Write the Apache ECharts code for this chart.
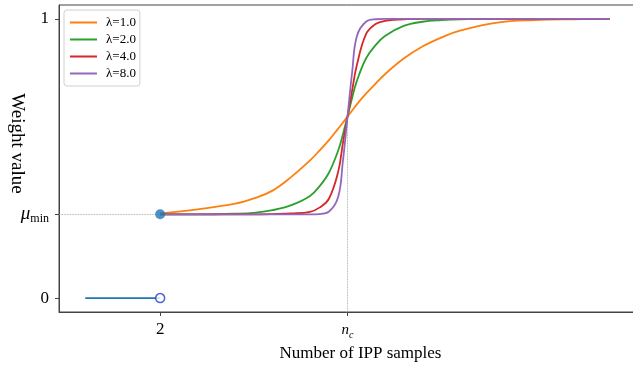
<!DOCTYPE html>
<html>
<head>
<meta charset="utf-8">
<script src="https://cdn.jsdelivr.net/npm/echarts@6/dist/echarts.min.js"></script>
<style>html,body{margin:0;padding:0;background:#fff;}#c{width:633px;height:370px;}</style>
</head>
<body>
<div id="c"></div>
<script>
// ---- data ----
const muMin = 0.3;          // weight at n = 2
const nc = 7;               // critical sample count (position of n_c tick)
const xTicks = [2, 7];
const xTickLabels = ['2', '{it|n}{sub|c}'];
const yTicks = [0, 0.3, 1];
const yTickLabels = ['0', '{mu|μ}{subm|min}', '1'];
const lambdas = ['λ=1.0', 'λ=2.0', 'λ=4.0', 'λ=8.0'];
const xs = [2, 3, 4, 4.5, 5, 5.5, 6, 6.25, 6.5, 6.75, 6.875, 7, 7.125, 7.25, 7.5, 7.75, 8, 8.5, 9, 9.5, 10, 11, 12, 13, 14];
const w1 = [0.303, 0.318, 0.338, 0.357, 0.385, 0.434, 0.493, 0.528, 0.565, 0.607, 0.628, 0.65, 0.672, 0.694, 0.733, 0.768, 0.802, 0.858, 0.901, 0.933, 0.958, 0.987, 0.996, 0.999, 1.0];
const w2 = [0.300, 0.300, 0.302, 0.305, 0.315, 0.333, 0.366, 0.400, 0.448, 0.528, 0.585, 0.65, 0.718, 0.778, 0.860, 0.906, 0.939, 0.975, 0.990, 0.996, 0.999, 1.0, 1.0, 1.0, 1.0];
const w4 = [0.300, 0.300, 0.300, 0.300, 0.301, 0.303, 0.309, 0.324, 0.355, 0.452, 0.553, 0.65, 0.745, 0.835, 0.947, 0.982, 0.993, 0.999, 1.0, 1.0, 1.0, 1.0, 1.0, 1.0, 1.0];
const w8 = [0.300, 0.300, 0.300, 0.300, 0.300, 0.300, 0.300, 0.301, 0.309, 0.362, 0.488, 0.65, 0.81, 0.938, 0.991, 0.999, 1.0, 1.0, 1.0, 1.0, 1.0, 1.0, 1.0, 1.0, 1.0];
const zeroSegX = [0, 2];
const zeroSegY = [0, 0];
const curveColors = ['#ff7f0e', '#2ca02c', '#d62728', '#9467bd'];

const serif = '"Liberation Serif","DejaVu Serif",serif';
const curves = [w1, w2, w4, w8].map((w, i) => ({
  name: lambdas[i],
  type: 'line',
  data: xs.map((x, j) => [x, w[j]]),
  smooth: 0.4,
  showSymbol: false,
  symbol: 'none',
  sampling: null,
  lineStyle: { width: 1.8, color: curveColors[i] },
  itemStyle: { color: curveColors[i] },
  z: 3 + i
}));

const chart = echarts.init(document.getElementById('c'), null, { renderer: 'canvas' });
chart.setOption({
  animation: false,
  backgroundColor: '#fff',
  grid: { left: 59, right: -3, top: 5, bottom: 58, containLabel: false, outerBoundsMode: 'none',
          show: true, borderColor: '#444', borderWidth: 1, backgroundColor: 'transparent' },
  legend: {
    data: lambdas,
    orient: 'vertical',
    left: 64, top: 10,
    icon: 'rect', itemWidth: 27, itemHeight: 2, itemGap: 4,
    padding: [6, 4, 6, 6],
    backgroundColor: '#fff', borderColor: '#d0d0d0', borderWidth: 1, borderRadius: 3,
    textStyle: { fontFamily: serif, fontSize: 13, color: '#000', lineHeight: 13, padding: [0, 0, 0, 4] }
  },
  xAxis: {
    type: 'value', min: -0.7, max: 14.7,
    name: 'Number of IPP samples', nameLocation: 'middle', nameGap: 33, nameMoveOverlap: false,
    nameTextStyle: { fontFamily: serif, fontSize: 17, color: '#000', padding: [0, 0, 0, 26] },
    axisLine: { show: true, onZero: false, lineStyle: { color: '#444', width: 1 } },
    axisTick: { show: true, customValues: xTicks, length: 4, lineStyle: { color: '#444' } },
    axisLabel: {
      customValues: xTicks, margin: 9, color: '#000', fontFamily: serif, fontSize: 17,
      formatter: v => xTickLabels[xTicks.indexOf(v)] ?? '',
      rich: {
        it: { fontFamily: serif, fontSize: 15, fontStyle: 'italic', color: '#000' },
        sub: { fontFamily: serif, fontSize: 10, fontStyle: 'italic', color: '#000', padding: [9, 0, 0, 0] }
      }
    },
    splitLine: { show: false }
  },
  yAxis: {
    type: 'value', min: -0.05, max: 1.05,
    name: 'Weight value', nameLocation: 'middle', nameGap: 33, nameRotate: -90, nameMoveOverlap: false,
    nameTextStyle: { fontFamily: serif, fontSize: 19, color: '#000', padding: [0, 30, 0, 0] },
    axisLine: { show: true, onZero: false, lineStyle: { color: '#444', width: 1 } },
    axisTick: { show: true, customValues: yTicks, length: 4, lineStyle: { color: '#444' } },
    axisLabel: {
      customValues: yTicks, margin: 10, color: '#000', fontFamily: serif, fontSize: 17,
      formatter: v => { const k = yTicks.findIndex(t => Math.abs(t - v) < 1e-9); return k >= 0 ? yTickLabels[k] : ''; },
      rich: {
        mu: { fontFamily: serif, fontSize: 19, fontStyle: 'italic', color: '#000' },
        subm: { fontFamily: serif, fontSize: 12, color: '#000', padding: [10, 0, 0, 0] }
      }
    },
    splitLine: { show: false }
  },
  series: [
    {
      name: 'guides', type: 'line', data: [], silent: true,
      markLine: {
        silent: true, symbol: 'none', label: { show: false },
        lineStyle: { type: 'dotted', color: '#999', width: 0.8 },
        data: [
          [{ coord: [-0.7, muMin] }, { coord: [2, muMin] }],
          [{ coord: [nc, -0.05] }, { coord: [nc, (1 + muMin) / 2] }]
        ]
      }
    },
    {
      name: 'zero', type: 'line', data: zeroSegX.map((x, i) => [x, zeroSegY[i]]),
      symbol: 'none', lineStyle: { color: '#1f77b4', width: 1.8 }, z: 2
    },
    {
      name: 'open', type: 'scatter', data: [[zeroSegX[1], zeroSegY[1]]],
      symbol: 'circle', symbolSize: 9,
      itemStyle: { color: '#fff', borderColor: '#2638d0', borderWidth: 1.5 }, z: 10
    },
    ...curves,
    {
      name: 'start', type: 'scatter', data: [[xs[0], muMin]],
      symbol: 'circle', symbolSize: 10,
      itemStyle: { color: '#1f77b4' }, z: 10
    }
  ]
});
</script>
</body>
</html>
